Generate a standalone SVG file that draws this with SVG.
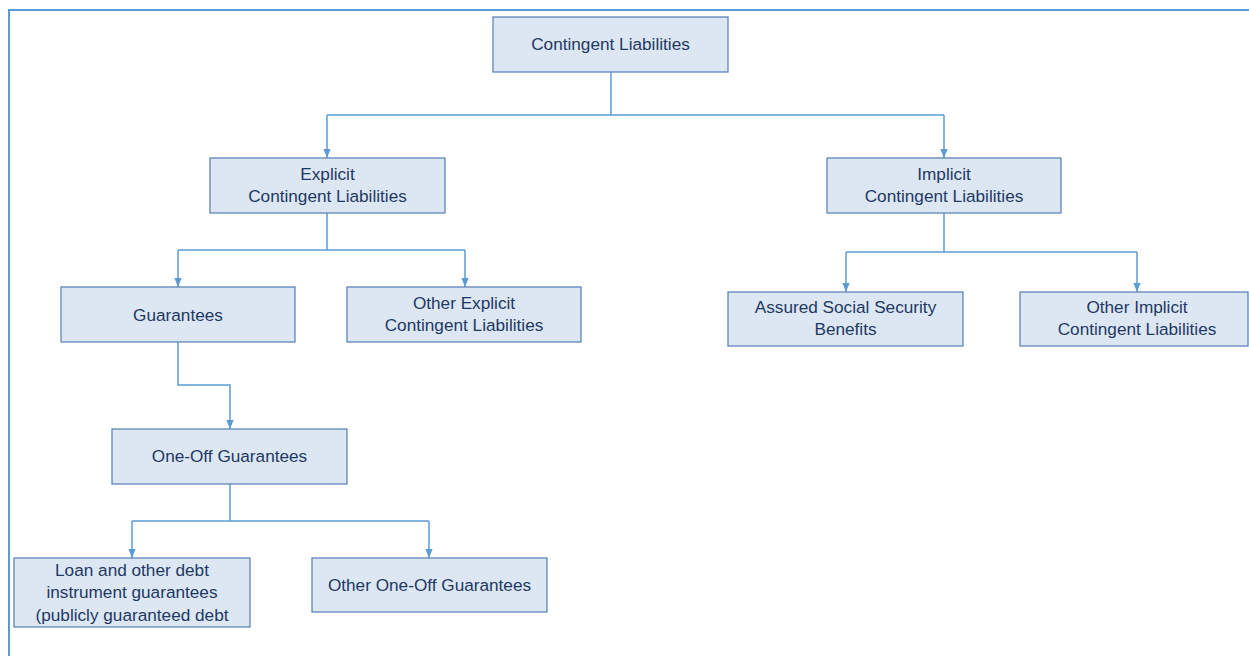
<svg xmlns="http://www.w3.org/2000/svg" width="1249" height="656" viewBox="0 0 1249 656">
  <defs>
    <marker id="arrow" viewBox="0 0 10 10" refX="10" refY="5" markerWidth="9" markerHeight="9" markerUnits="userSpaceOnUse" orient="auto">
      <path d="M0,1 L10,5 L0,9 z" fill="#5b9bd5"/>
    </marker>
    <style>
      .box { fill: #dce7f3; stroke: #5f86b8; stroke-width: 1.3; }
      .lbl { font-family: "Liberation Sans", Arial, sans-serif; font-size: 17.2px; fill: #1f3864; text-anchor: middle; dominant-baseline: central; }
      .conn { fill: none; stroke: #5b9bd5; stroke-width: 1.5; }
      .frame { fill: none; stroke: #5b9bd5; stroke-width: 2; }
    </style>
  </defs>

  <rect width="1249" height="656" fill="#ffffff"/>
  <!-- outer frame -->
  <path class="frame" d="M9,656 V10 H1249"/>

  <g id="connectors">
    <path class="conn" d="M611,72 V115"/>
    <path class="conn" d="M327,115 H944"/>
    <path class="conn" d="M327,115 V158" marker-end="url(#arrow)"/>
    <path class="conn" d="M944,115 V158" marker-end="url(#arrow)"/>

    <path class="conn" d="M327,213 V250"/>
    <path class="conn" d="M178,250 H465"/>
    <path class="conn" d="M178,250 V287" marker-end="url(#arrow)"/>
    <path class="conn" d="M465,250 V287" marker-end="url(#arrow)"/>

    <path class="conn" d="M944,213 V252"/>
    <path class="conn" d="M846,252 H1137"/>
    <path class="conn" d="M846,252 V292" marker-end="url(#arrow)"/>
    <path class="conn" d="M1137,252 V292" marker-end="url(#arrow)"/>

    <path class="conn" d="M178,342 V385 H230 V429" marker-end="url(#arrow)"/>

    <path class="conn" d="M230,484 V521"/>
    <path class="conn" d="M132,521 H429"/>
    <path class="conn" d="M132,521 V558" marker-end="url(#arrow)"/>
    <path class="conn" d="M429,521 V558" marker-end="url(#arrow)"/>
  </g>

  <g id="contingent-liabilities">
    <rect class="box" x="493" y="17" width="235" height="55"/>
    <text class="lbl" x="610.5" y="44">Contingent Liabilities</text>
  </g>

  <g id="explicit">
    <rect class="box" x="210" y="158" width="235" height="55"/>
    <text class="lbl" x="327.5" y="174">Explicit</text>
    <text class="lbl" x="327.5" y="196">Contingent Liabilities</text>
  </g>

  <g id="implicit">
    <rect class="box" x="827" y="158" width="234" height="55"/>
    <text class="lbl" x="944" y="174">Implicit</text>
    <text class="lbl" x="944" y="196">Contingent Liabilities</text>
  </g>

  <g id="guarantees">
    <rect class="box" x="61" y="287" width="234" height="55"/>
    <text class="lbl" x="178" y="315">Guarantees</text>
  </g>

  <g id="other-explicit">
    <rect class="box" x="347" y="287" width="234" height="55"/>
    <text class="lbl" x="464" y="303">Other Explicit</text>
    <text class="lbl" x="464" y="325">Contingent Liabilities</text>
  </g>

  <g id="assured-social-security">
    <rect class="box" x="728" y="292" width="235" height="54"/>
    <text class="lbl" x="845.5" y="307">Assured Social Security</text>
    <text class="lbl" x="845.5" y="329">Benefits</text>
  </g>

  <g id="other-implicit">
    <rect class="box" x="1020" y="292" width="228" height="54"/>
    <text class="lbl" x="1137" y="307">Other Implicit</text>
    <text class="lbl" x="1137" y="329">Contingent Liabilities</text>
  </g>

  <g id="one-off-guarantees">
    <rect class="box" x="112" y="429" width="235" height="55"/>
    <text class="lbl" x="229.5" y="456">One-Off Guarantees</text>
  </g>

  <g id="loan-guarantees">
    <rect class="box" x="14" y="558" width="236" height="69"/>
    <text class="lbl" x="132" y="570">Loan and other debt</text>
    <text class="lbl" x="132" y="592">instrument guarantees</text>
    <text class="lbl" x="132" y="615">(publicly guaranteed debt</text>
  </g>

  <g id="other-one-off">
    <rect class="box" x="312" y="558" width="235" height="54"/>
    <text class="lbl" x="429.5" y="585">Other One-Off Guarantees</text>
  </g>
</svg>
